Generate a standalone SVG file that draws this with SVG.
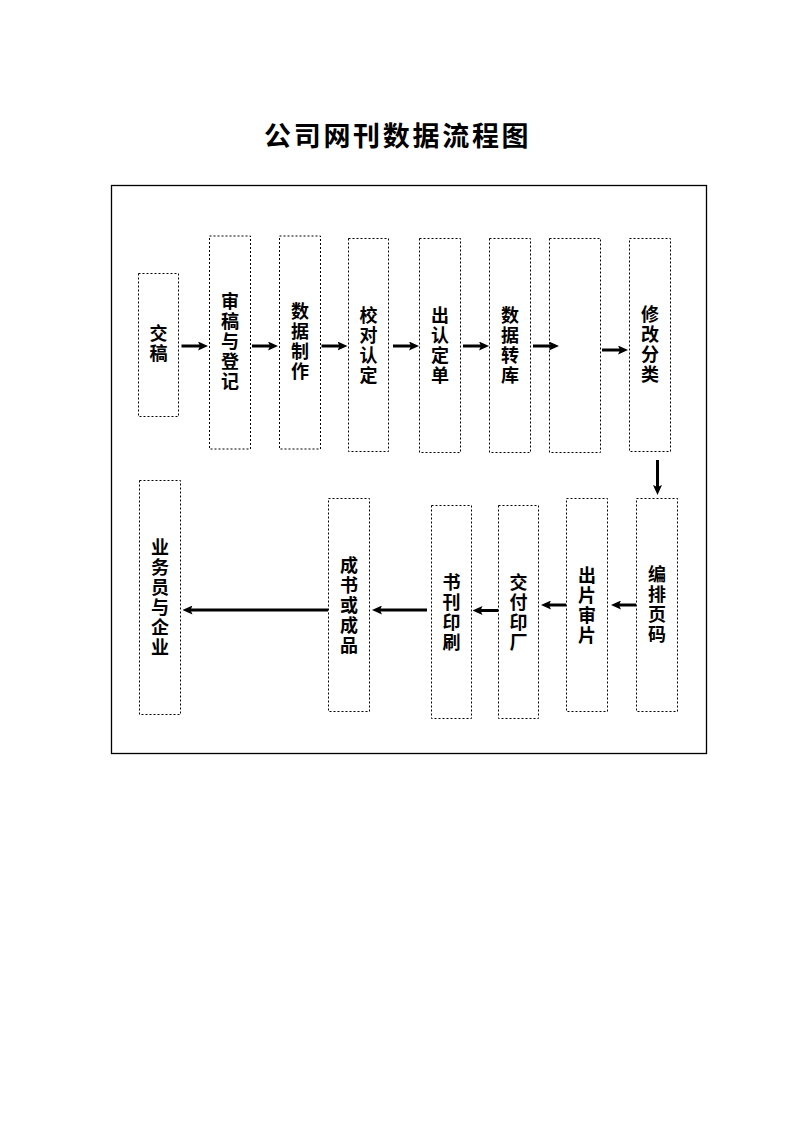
<svg xmlns="http://www.w3.org/2000/svg" width="794" height="1123" viewBox="0 0 794 1123">
<style>
.bg{fill:#ffffff}
.frame{fill:none;stroke:#000;stroke-width:1.3}
.box{fill:#fff;stroke:#000;stroke-width:1;stroke-dasharray:2,2}
.lbl{font-family:"Noto Sans CJK SC","Noto Sans",sans-serif;font-weight:bold;font-size:18px;fill:#000;text-anchor:middle;writing-mode:vertical-rl;letter-spacing:2px}
.title{font-family:"Noto Sans CJK SC","Noto Sans",sans-serif;font-weight:bold;font-size:27px;fill:#000;letter-spacing:2.7px}
.arr{stroke:#000;stroke-width:3;fill:none;marker-end:url(#ah)}
</style>
<defs>
<marker id="ah" markerUnits="userSpaceOnUse" markerWidth="10" markerHeight="9" refX="4" refY="4.5" orient="auto">
<path d="M0,0 L10,4.5 L0,9 L2,4.5 z" fill="#000"/>
</marker>
</defs>
<rect class="bg" x="0" y="0" width="794" height="1123"/>
<text class="title" x="264" y="146">公司网刊数据流程图</text>
<rect class="frame" x="111.5" y="185.5" width="595" height="568"/>

<g id="n1"><rect class="box" x="138.5" y="273.5" width="40" height="143"/>
<text class="lbl" x="158.5" y="344">交稿</text></g>

<g id="n2"><rect class="box" x="209.5" y="236" width="41" height="213"/>
<text class="lbl" x="230" y="342">审稿与登记</text></g>

<g id="n3"><rect class="box" x="279.5" y="236" width="41" height="213"/>
<text class="lbl" x="300" y="342">数据制作</text></g>

<g id="n4"><rect class="box" x="348.5" y="238.5" width="40" height="213"/>
<text class="lbl" x="368.5" y="346">校对认定</text></g>

<g id="n5"><rect class="box" x="419.5" y="238.5" width="41" height="214"/>
<text class="lbl" x="440" y="346">出认定单</text></g>

<g id="n6"><rect class="box" x="489.5" y="238.5" width="41" height="214"/>
<text class="lbl" x="510" y="346">数据转库</text></g>

<g id="n7"><rect class="box" x="549.5" y="238.5" width="51" height="214"/></g>

<g id="n8"><rect class="box" x="629.5" y="238.5" width="41" height="213"/>
<text class="lbl" x="650" y="345">修改分类</text></g>

<g id="n9"><rect class="box" x="636.5" y="498.5" width="41" height="213"/>
<text class="lbl" x="657" y="605">编排页码</text></g>

<g id="n10"><rect class="box" x="566.5" y="498.5" width="41" height="213"/>
<text class="lbl" x="587" y="606">出片审片</text></g>

<g id="n11"><rect class="box" x="498.5" y="505.5" width="40" height="213"/>
<text class="lbl" x="518.5" y="613">交付印厂</text></g>

<g id="n12"><rect class="box" x="431.5" y="505.5" width="40" height="213"/>
<text class="lbl" x="451.5" y="613">书刊印刷</text></g>

<g id="n13"><rect class="box" x="328.5" y="498.5" width="41" height="213"/>
<text class="lbl" x="349" y="606">成书或成品</text></g>

<g id="n14"><rect class="box" x="139.5" y="480.5" width="41" height="234"/>
<text class="lbl" x="160" y="598">业务员与企业</text></g>

<g id="connectors">
<line class="arr" x1="181.5" y1="346" x2="202" y2="346"/>
<line class="arr" x1="252" y1="346" x2="272" y2="346"/>
<line class="arr" x1="321.5" y1="346" x2="341.5" y2="346"/>
<line class="arr" x1="393" y1="346" x2="413" y2="346"/>
<line class="arr" x1="463" y1="346" x2="483" y2="346"/>
<line class="arr" x1="533" y1="346" x2="553" y2="346"/>
<line class="arr" x1="602" y1="350" x2="622" y2="350"/>
<line class="arr" x1="657.5" y1="460" x2="657.5" y2="489"/>
<line class="arr" x1="636" y1="605" x2="617" y2="605"/>
<line class="arr" x1="566" y1="605" x2="547" y2="605"/>
<line class="arr" x1="498" y1="610.5" x2="478.5" y2="610.5"/>
<line class="arr" x1="427" y1="610" x2="378" y2="610"/>
<line class="arr" x1="328" y1="610" x2="188.5" y2="610"/>
</g>
</svg>
